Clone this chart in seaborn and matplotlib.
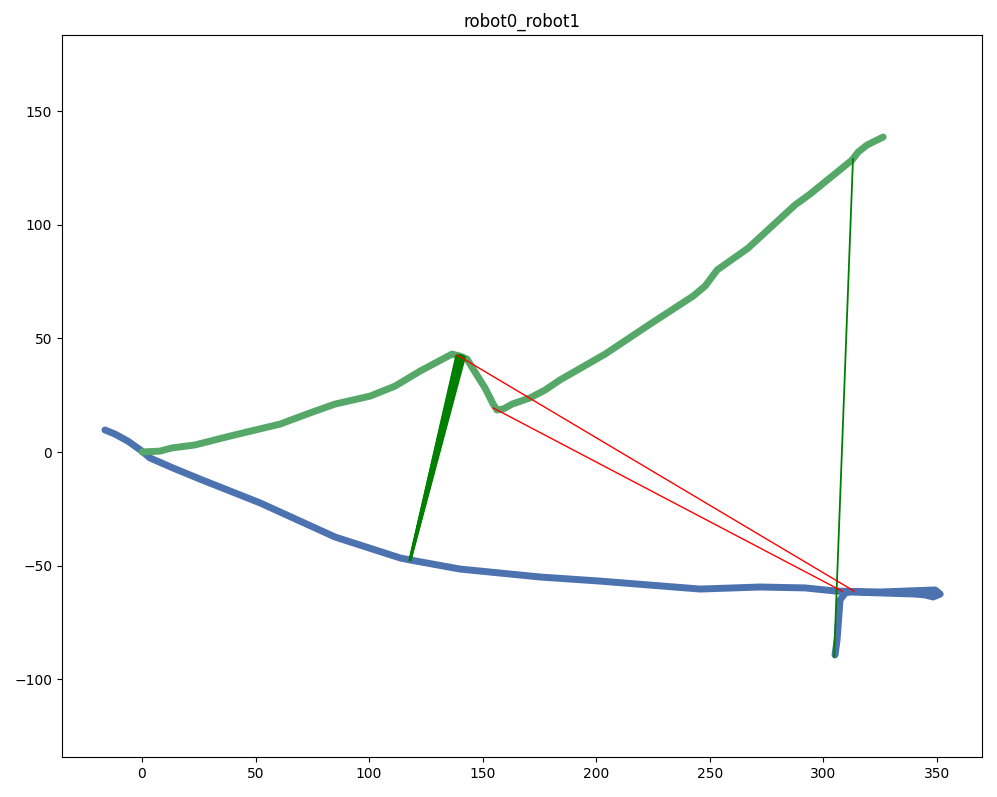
import numpy as np
import pandas as pd
import matplotlib
matplotlib.use("Agg")
import matplotlib.pyplot as plt
import seaborn as sns

# -----------------------------
# trajectory data
# -----------------------------
robot0_x = [0, 7.9, 13.2, 23.3, 38.7, 60.8, 74, 85, 100.4, 111.4, 122.4, 136.5, 140, 143.1,
            146.6, 151, 154.6, 156.3, 159, 163, 170.8, 177.5, 184, 203.9, 223.7, 242.6,
            247.9, 253.2, 266.8, 287.5, 294.1, 312.6, 315.3, 319.2, 326.3]
robot0_y = [0, 0.4, 1.8, 3.1, 7, 12.3, 17.2, 21.1, 24.6, 29, 35.6, 43.1, 42.2, 40.9,
            35.2, 28.2, 21.1, 18.5, 18.9, 21.1, 23.8, 27.3, 31.7, 43.1, 56.3, 68.6,
            73, 80.1, 89.7, 108.7, 113.5, 128.5, 132, 135.1, 138.6]

robot1_x = [-16.3, -11.9, -6.2, 0, 3.5, 13.6, 25.5, 52, 85, 113.6, 118, 140, 175.3, 201.7,
            245.7, 272.1, 291.9, 305.6, 325, 349.2, 351.4, 348.3, 344.8, 340.4, 325,
            311.8, 309.6, 307.3, 306.5, 306, 305.1]
robot1_y = [9.7, 7.9, 4.8, 0.4, -2.6, -7, -11.9, -22.4, -37.4, -46.6, -47.5, -51.5, -55,
            -56.8, -60.3, -59.4, -59.8, -61.2, -61.6, -60.7, -62.5, -63.8, -62.9, -62.5,
            -62, -61.6, -62, -65.1, -76.1, -82.7, -89.3]

# loop closures (inliers): start on robot0, end on robot1
inlier_x0 = [138.3, 138.6, 138.9, 139.2, 139.5, 139.8, 140.1, 140.4, 140.7, 141.0,
             141.3, 141.6, 141.9, 142.2, 313.0]
inlier_y0 = [42.3, 42.4, 42.5, 42.5, 42.6, 42.6, 42.6, 42.5, 42.5, 42.4,
             42.3, 42.1, 41.9, 41.7, 128.9]
inlier_x1 = [117.8, 117.8, 117.9, 117.9, 118.0, 118.0, 118.0, 118.0, 118.1, 118.1,
             118.1, 118.2, 118.2, 118.3, 304.7]
inlier_y1 = [-47.4, -47.4, -47.4, -47.4, -47.5, -47.5, -47.5, -47.5, -47.5, -47.5,
             -47.5, -47.6, -47.6, -47.6, -90.2]

# rejected closures (outliers)
outlier_x0 = [138.7, 154.6]
outlier_y0 = [42.7, 19.4]
outlier_x1 = [313.5, 308.2]
outlier_y1 = [-61.2, -61.2]

pal = sns.color_palette("deep")

fig = plt.figure(figsize=(9.97, 7.97), dpi=100)
ax = fig.add_axes([62 / 997, 40 / 797, 920 / 997, 722 / 797])

df1 = pd.DataFrame({"x": robot1_x, "y": robot1_y})
df0 = pd.DataFrame({"x": robot0_x, "y": robot0_y})
sns.lineplot(data=df1, x="x", y="y", sort=False, estimator=None, color=pal[0],
             linewidth=5, solid_capstyle="round", solid_joinstyle="round", ax=ax)
sns.lineplot(data=df0, x="x", y="y", sort=False, estimator=None, color=pal[2],
             linewidth=5, solid_capstyle="round", solid_joinstyle="round", ax=ax)

for a, b, c, d in zip(inlier_x0, inlier_y0, inlier_x1, inlier_y1):
    ax.plot([a, c], [b, d], color="g", linewidth=1.3)
for a, b, c, d in zip(outlier_x0, outlier_y0, outlier_x1, outlier_y1):
    ax.plot([a, c], [b, d], color="r", linewidth=1)

ax.set_xlim(-35.2, 369.8)
ax.set_ylim(-134.2, 183.5)
ax.set_xticks([0, 50, 100, 150, 200, 250, 300, 350])
ax.set_yticks([-100, -50, 0, 50, 100, 150])
ax.set_xlabel("")
ax.set_ylabel("")
ax.set_title("robot0_robot1")

fig.savefig("out.png", dpi=100)
